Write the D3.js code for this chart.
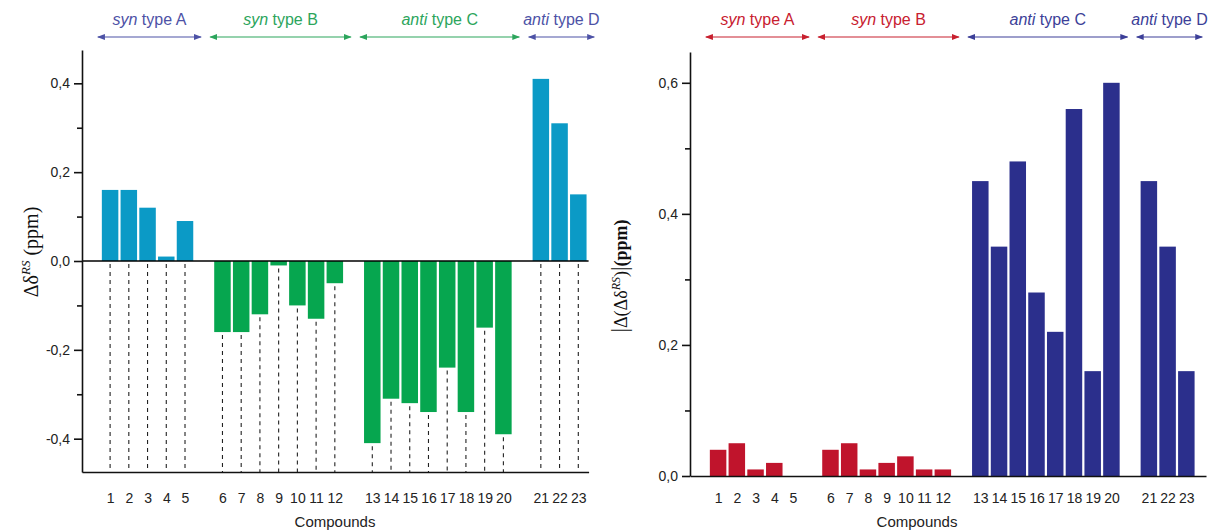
<!DOCTYPE html>
<html>
<head>
<meta charset="utf-8">
<script src="https://cdn.jsdelivr.net/npm/d3@7"></script>
<style>
  body { margin: 0; background: #fff; }
  text { font-family: "Liberation Sans", Arial, sans-serif; }
</style>
</head>
<body>
<svg id="chart" width="1208" height="531"></svg>
<script>
// compounds along the x axis, and the group each one belongs to
var compounds = ["1","2","3","4","5","6","7","8","9","10","11","12",
                 "13","14","15","16","17","18","19","20","21","22","23"];
var groupOf = [0,0,0,0,0, 1,1,1,1,1,1,1, 2,2,2,2,2,2,2,2, 3,3,3];
var groupItalic = ["syn", "syn", "anti", "anti"];
var groupType = ["type A", "type B", "type C", "type D"];

// left panel: delta delta RS (ppm)
var deltaRS = [0.16, 0.16, 0.12, 0.01, 0.09,
               -0.16, -0.16, -0.12, -0.01, -0.10, -0.13, -0.05,
               -0.41, -0.31, -0.32, -0.34, -0.24, -0.34, -0.15, -0.39,
               0.41, 0.31, 0.15];
// right panel: |delta(delta delta RS)| (ppm)
var absDelta = [0.04, 0.05, 0.01, 0.02, 0.00,
                0.04, 0.05, 0.01, 0.02, 0.03, 0.01, 0.01,
                0.45, 0.35, 0.48, 0.28, 0.22, 0.56, 0.16, 0.60,
                0.45, 0.35, 0.16];

var leftTicks = [-0.4, -0.2, 0.0, 0.2, 0.4];
var leftMinor = [-0.3, -0.1, 0.1, 0.3];
var rightTicks = [0.0, 0.2, 0.4, 0.6];
var rightMinor = [0.1, 0.3, 0.5];

var svg = d3.select("#chart");
var loc = d3.formatLocale({decimal: ",", thousands: ".", grouping: [3], currency: ["", ""], minus: "-"});
var fmt = loc.format(".1f");

// one empty slot between groups
var slots = compounds.map(function(c, i) { return i + groupOf[i]; });

// arrow markers
var defs = svg.append("defs");
function marker(id, color) {
  defs.append("marker")
    .attr("id", id).attr("viewBox", "0 0 8 6")
    .attr("refX", 7).attr("refY", 3)
    .attr("markerWidth", 8).attr("markerHeight", 6)
    .attr("markerUnits", "userSpaceOnUse")
    .attr("orient", "auto-start-reverse")
    .append("path").attr("d", "M0,0L8,3L0,6Z").attr("fill", color);
}
var purple = "#4d52a6", green = "#2ca55c", red = "#c8202f", navy = "#3c3f98";
marker("m-purple", purple); marker("m-green", green);
marker("m-red", red); marker("m-navy", navy);

function drawPanel(p) {
  var g = svg.append("g");
  var x = d3.scaleLinear().domain(p.xDomain).range(p.xRange);
  var y = d3.scaleLinear().domain(p.yDomain).range(p.yRange);
  var bottom = p.yRange[0];
  var bw = 16.5;

  // dashed drop lines
  if (p.dashed) {
    g.selectAll(".drop").data(p.values).enter().append("line")
      .attr("x1", function(d, i) { return x(slots[i]); })
      .attr("x2", function(d, i) { return x(slots[i]); })
      .attr("y1", function(d) { return Math.max(y(d), y(0)) + 3; })
      .attr("y2", bottom)
      .attr("stroke", "#222").attr("stroke-width", 1.1)
      .attr("stroke-dasharray", "4,4");
  }

  // bars
  g.selectAll(".bar").data(p.values).enter().append("rect")
    .attr("x", function(d, i) { return x(slots[i]) - bw / 2; })
    .attr("y", function(d) { return Math.min(y(d), y(0)); })
    .attr("width", bw)
    .attr("height", function(d) { return Math.abs(y(d) - y(0)); })
    .attr("fill", function(d, i) { return p.color(d, i); });

  if (p.zeroLine) {
    g.append("line")
      .attr("x1", p.xRange[0]).attr("x2", p.xRange[1])
      .attr("y1", y(0)).attr("y2", y(0))
      .attr("stroke", "#000").attr("stroke-width", 1.5);
  }

  // y axis
  var ya = g.append("g").attr("transform", "translate(" + p.xRange[0] + ",0)")
    .call(d3.axisLeft(y).tickValues(p.ticks).tickFormat(fmt).tickSize(8).tickSizeOuter(0).tickPadding(4));
  g.append("g").attr("transform", "translate(" + p.xRange[0] + ",0)")
    .call(d3.axisLeft(y).tickValues(p.minor).tickFormat("").tickSize(5).tickSizeOuter(0))
    .call(function(s) { s.select(".domain").remove(); })
    .selectAll("line").attr("stroke", "#111").attr("stroke-width", 1.6);

  // x axis
  var xa = g.append("g").attr("transform", "translate(0," + bottom + ")")
    .call(d3.axisBottom(x).tickValues(slots)
      .tickFormat(function(d, i) { return compounds[i]; })
      .tickSize(0).tickSizeOuter(0).tickPadding(p.xPad));

  [ya, xa].forEach(function(a) {
    a.selectAll("path, line").attr("stroke", "#111").attr("stroke-width", 1.6);
    a.selectAll("text").attr("font-size", 14).attr("fill", "#222")
      .attr("font-family", "Liberation Sans, Arial, sans-serif");
  });

  g.append("text")
    .attr("x", p.titleX).attr("y", 527)
    .attr("text-anchor", "middle").attr("font-size", 15).attr("fill", "#222")
    .text("Compounds");

  // group annotations
  var step = x(1) - x(0);
  d3.range(4).forEach(function(k) {
    var s = slots.filter(function(d, i) { return groupOf[i] === k; });
    var x1 = x(s[0]) - 0.65 * step, x2 = x(s[s.length - 1]) + 0.85 * step;
    var c = p.groupColors[k];
    g.append("line")
      .attr("x1", x1).attr("x2", x2).attr("y1", 37).attr("y2", 37)
      .attr("stroke", c).attr("stroke-width", 1.2)
      .attr("marker-start", "url(#" + p.groupMarkers[k] + ")")
      .attr("marker-end", "url(#" + p.groupMarkers[k] + ")");
    var t = g.append("text")
      .attr("x", (x1 + x2) / 2).attr("y", 25)
      .attr("text-anchor", "middle").attr("font-size", 16).attr("fill", c);
    t.append("tspan").attr("font-style", "italic").text(groupItalic[k]);
    t.append("tspan").text(" " + groupType[k]);
  });
  return g;
}

drawPanel({
  values: deltaRS,
  xDomain: [-1.5, 25.55], xRange: [82, 588.6],
  yDomain: [-0.475, 0.475], yRange: [472, 50],
  ticks: leftTicks, minor: leftMinor,
  dashed: true, zeroLine: true, xPad: 21, titleX: 335,
  color: function(d) { return d >= 0 ? "#0b9ac6" : "#06a64f"; },
  groupColors: [purple, green, green, purple],
  groupMarkers: ["m-purple", "m-green", "m-green", "m-purple"]
});

drawPanel({
  values: absDelta,
  xDomain: [-1.5, 26.05], xRange: [690, 1206],
  yDomain: [0, 0.647], yRange: [476, 52],
  ticks: rightTicks, minor: rightMinor,
  dashed: false, zeroLine: false, xPad: 17, titleX: 917,
  color: function(d, i) { return groupOf[i] < 2 ? "#c0142c" : "#2b2f8c"; },
  groupColors: [red, red, navy, navy],
  groupMarkers: ["m-red", "m-red", "m-navy", "m-navy"]
});

// y axis titles
var lt = svg.append("text")
  .attr("transform", "translate(38,252) rotate(-90)")
  .attr("text-anchor", "middle")
  .attr("font-family", "Liberation Serif, Times New Roman, serif")
  .attr("font-size", 20).attr("fill", "#111");
lt.append("tspan").attr("font-family", "Liberation Serif, serif").text("Δδ");
lt.append("tspan").attr("font-family", "Liberation Serif, serif").attr("font-style", "italic")
  .attr("font-size", 13).attr("dy", -8).text("RS");
lt.append("tspan").attr("font-family", "Liberation Serif, serif").attr("dy", 8).text(" (ppm)");

var rt = svg.append("text")
  .attr("transform", "translate(627,276) rotate(-90)")
  .attr("text-anchor", "middle")
  .attr("font-family", "Liberation Serif, Times New Roman, serif")
  .attr("font-size", 18).attr("fill", "#111");
rt.append("tspan").attr("font-family", "Liberation Serif, serif").attr("font-size", 23).text("|");
rt.append("tspan").attr("font-family", "Liberation Serif, serif").text("Δ(Δδ");
rt.append("tspan").attr("font-family", "Liberation Serif, serif").attr("font-style", "italic")
  .attr("font-size", 12).attr("dy", -7).text("RS");
rt.append("tspan").attr("font-family", "Liberation Serif, serif").attr("dy", 7).text(")");
rt.append("tspan").attr("font-family", "Liberation Serif, serif").attr("font-size", 23).text("|");
rt.append("tspan").attr("font-family", "Liberation Serif, serif").attr("font-weight", "bold").text("(ppm)");
</script>
</body>
</html>
